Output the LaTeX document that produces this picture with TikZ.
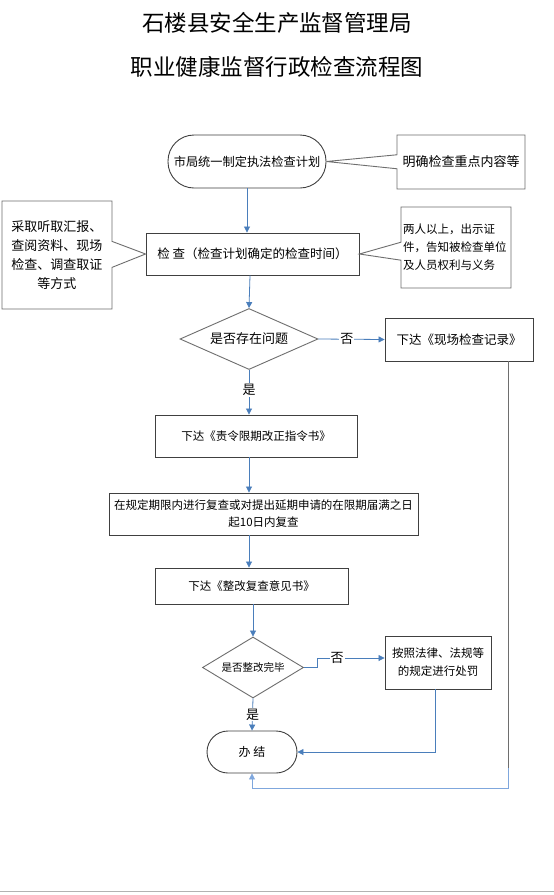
\documentclass[tikz,border=0pt]{standalone}
\usepackage{fontspec}
\setmainfont{Noto Sans CJK SC}
\usetikzlibrary{shapes.geometric,shapes.callouts,arrows.meta}
\definecolor{lineblue}{HTML}{4A7EBB}
\definecolor{lightblue}{HTML}{7FA7DD}
\definecolor{boxgray}{HTML}{404040}
\definecolor{diagray}{HTML}{6E6E6E}
\tikzset{
  box/.style={draw=boxgray, line width=0.9pt, rectangle, inner sep=1pt, align=center},
  term/.style={draw=boxgray, line width=0.9pt, rectangle, align=center},
  decide/.style={draw=diagray, line width=0.9pt, diamond, inner sep=0pt, align=center},
  note/.style={draw=diagray, line width=0.9pt, rectangle callout},
  flow/.style={draw=lineblue, line width=0.8pt, -{Triangle[length=6pt,width=6pt]}},
  plainflow/.style={draw=lineblue, line width=0.8pt},
  lbl/.style={fill=white, inner sep=1pt, font=\fontsize{13}{13}\selectfont},
  titlefont/.style={font=\fontsize{22.5}{24}\selectfont}
}
\begin{document}
\begin{tikzpicture}[x=1pt,y=-1pt]
\useasboundingbox (0,0) rectangle (554,895);
\fill[white] (0,0) rectangle (554,895);
% titles
\node[titlefont] (t1) at (277,23) {石楼县安全生产监督管理局};
\node[titlefont] (t2) at (277,67) {职业健康监督行政检查流程图};
% start terminal
\node[term, rounded corners=26pt, minimum width=158pt, minimum height=53pt, inner sep=0pt,
      font=\fontsize{12.2}{14}\selectfont] (start) at (247,161.5) {市局统一制定执法检查计划};
% check box
\node[box, minimum width=213pt, minimum height=42pt, font=\fontsize{12.5}{14}\selectfont]
      (check) at (252.5,254) {检 查（检查计划确定的检查时间）};
% note 1
\node[note, minimum width=128pt, minimum height=54pt, inner sep=0pt, callout pointer width=14pt,
      callout absolute pointer={(start.east)}, font=\fontsize{13}{15}\selectfont]
      (note1) at (461,162) {明确检查重点内容等};
% left note
\node[note, minimum width=110pt, minimum height=108pt, inner sep=0pt, align=center,
      callout pointer width=26pt, callout absolute pointer={(check.west)},
      font=\fontsize{13}{19}\selectfont]
      (lnote) at (57,255) {采取听取汇报、\\查阅资料、现场\\检查、调查取证\\等方式};
% right note 2
\node[note, text width=106pt, inner xsep=2pt, inner ysep=0pt, minimum height=81pt, align=left,
      callout pointer width=18pt, callout absolute pointer={(check.east)},
      font=\fontsize{11.5}{18}\selectfont]
      (note2) at (456,247.5) {两人以上，出示证\\件，告知被检查单位\\及人员权利与义务};
% decision 1
\node[decide, aspect=2.26, minimum width=138pt, minimum height=61pt,
      font=\fontsize{13}{15}\selectfont] (dia1) at (249,339) {是否存在问题};
% record box
\node[box, minimum width=148pt, minimum height=43pt, font=\fontsize{12.5}{14}\selectfont]
      (rec1) at (459,339.5) {下达《现场检查记录》};
% order box
\node[box, minimum width=202pt, minimum height=42pt, font=\fontsize{11.5}{14}\selectfont]
      (box2) at (256,436) {下达《责令限期改正指令书》};
% review box
\node[box, minimum width=309pt, minimum height=42pt, font=\fontsize{11.5}{17}\selectfont]
      (box3) at (263.5,514) {在规定期限内进行复查或对提出延期申请的在限期届满之日\\起10日内复查};
% opinion box
\node[box, minimum width=193pt, minimum height=36pt, font=\fontsize{11.5}{14}\selectfont]
      (box4) at (251.5,586) {下达《整改复查意见书》};
% decision 2
\node[decide, aspect=1.66, minimum width=101pt, minimum height=61pt,
      font=\fontsize{10.5}{12}\selectfont] (dia2) at (253,667.5) {是否整改完毕};
% penalty box
\node[box, minimum width=106pt, minimum height=53pt, font=\fontsize{11.5}{18}\selectfont]
      (rec2) at (438,662.5) {按照法律、法规等\\的规定进行处罚};
% end terminal
\node[term, rounded corners=21pt, minimum width=90pt, minimum height=42pt, inner sep=0pt,
      font=\fontsize{12}{14}\selectfont] (end) at (252,752) {办 结};
% connectors
\draw[flow] (start.south) -- (start.south |- check.north);
\draw[flow] ([xshift=-2.5pt]check.south) -- (dia1.north);
\draw[flow] (dia1.east) -- node[lbl, pos=0.43] (no1) {否} (rec1.west);
\draw[flow] (dia1.south) -- node[lbl, pos=0.45] (yes1) {是} (dia1.south |- box2.north);
\draw[flow] (dia1.south |- box2.south) -- (dia1.south |- box3.north);
\draw[flow] (dia1.south |- box3.south) -- (dia1.south |- box4.north);
\draw[flow] (dia2.north |- box4.south) -- (dia2.north);
\draw[flow] (dia2.east) -- ++(13,0) |- node[lbl, pos=0.65] (no2) {否} ([yshift=4.5pt]rec2.west);
\draw[flow] (dia2.south) -- node[lbl, pos=0.5] (yes2) {是} (end.north);
\draw[flow] ([xshift=-3pt]rec2.south) |- (end.east);
\coordinate (loopa) at (508,768);
\coordinate (loopb) at (508,788);
\draw[draw=diagray, line width=1pt] (rec1.south -| loopa) -- (loopa);
\draw[draw=lightblue, line width=0.8pt, -{Triangle[length=6pt,width=6pt]}] (loopa) -- (loopb) -| (end.south);
% bottom rule
\coordinate (rulea) at (0,891);
\coordinate (ruleb) at (554,891);
\draw[draw=gray!60, line width=1pt] (rulea) -- (ruleb);
\end{tikzpicture}
\end{document}
